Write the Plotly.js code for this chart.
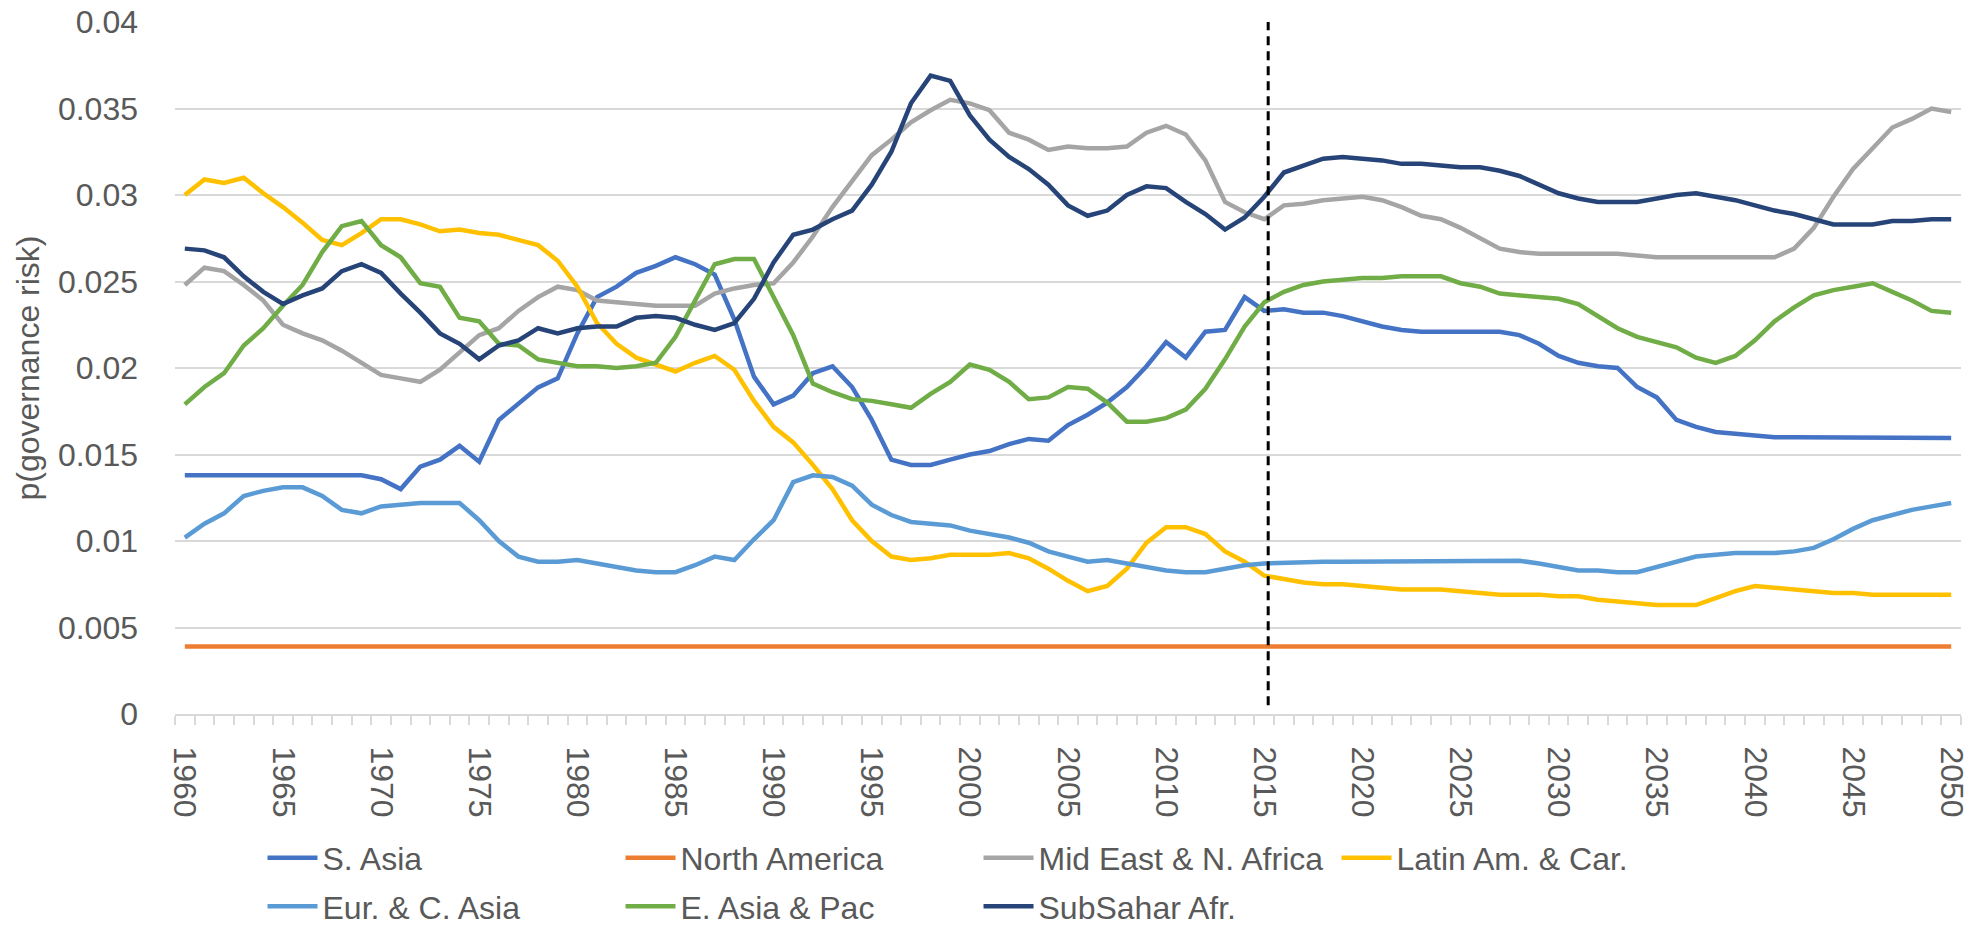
<!DOCTYPE html>
<html>
<head>
<meta charset="utf-8">
<script src="https://cdn.plot.ly/plotly-3.0.1.min.js"></script>
<style>html,body{margin:0;padding:0;background:#fff;}#chart{width:1981px;height:934px;}</style>
</head>
<body>
<div id="chart"></div>
<script>
const years = [];
for (let y = 1960; y <= 2050; y++) years.push(y);

const seriesNames = ["S. Asia", "North America", "Mid East & N. Africa", "Latin Am. & Car.", "Eur. & C. Asia", "E. Asia & Pac", "SubSahar Afr."];
const seriesColors = ["#4472C4", "#ED7D31", "#A5A5A5", "#FFC000", "#5B9BD5", "#70AD47", "#264478"];

const sAsia = [
0.0138,0.0138,0.0138,0.0138,0.0138,0.0138,0.0138,0.0138,0.0138,0.0138,
0.01357,0.0130,0.0143,0.0147,0.0155,0.01458,0.0170,0.01795,0.01888,0.0194,
0.0220,0.0241,0.0247,0.0255,0.0259,0.0264,0.0260,0.0254,0.0228,0.0195,
0.0179,0.0184,0.0197,0.0201,0.0189,0.0170,0.0147,0.0144,0.0144,0.0147,
0.0150,0.0152,0.0156,0.0159,0.0158,0.0167,0.0173,0.0180,0.0189,0.0201,
0.0215,0.0206,0.0221,0.0222,0.0241,0.0233,0.0234,0.0232,0.0232,0.0230,
0.0227,0.0224,0.0222,0.0221,0.0221,0.0221,0.0221,0.0221,0.0219,0.0214,
0.0207,0.0203,0.0201,0.0200,0.0189,0.0183,0.0170,0.0166,0.0163,0.0162,
0.0161,0.0160,0.0160,0.0160,0.0160,0.01598,0.01597,0.01596,0.01595,0.01595,0.01595];

const northAmerica = [
0.0039,0.0039,0.0039,0.0039,0.0039,0.0039,0.0039,0.0039,0.0039,0.0039,
0.0039,0.0039,0.0039,0.0039,0.0039,0.0039,0.0039,0.0039,0.0039,0.0039,
0.0039,0.0039,0.0039,0.0039,0.0039,0.0039,0.0039,0.0039,0.0039,0.0039,
0.0039,0.0039,0.0039,0.0039,0.0039,0.0039,0.0039,0.0039,0.0039,0.0039,
0.0039,0.0039,0.0039,0.0039,0.0039,0.0039,0.0039,0.0039,0.0039,0.0039,
0.0039,0.0039,0.0039,0.0039,0.0039,0.0039,0.0039,0.0039,0.0039,0.0039,
0.0039,0.0039,0.0039,0.0039,0.0039,0.0039,0.0039,0.0039,0.0039,0.0039,
0.0039,0.0039,0.0039,0.0039,0.0039,0.0039,0.0039,0.0039,0.0039,0.0039,
0.0039,0.0039,0.0039,0.0039,0.0039,0.0039,0.0039,0.0039,0.0039,0.0039,0.0039];

const midEast = [
0.0248,0.0258,0.0256,0.0248,0.0239,0.0225,0.0220,0.0216,0.0210,0.0203,
0.0196,0.0194,0.0192,0.0199,0.0209,0.0219,0.0223,0.0233,0.0241,0.0247,
0.0245,0.0239,0.0238,0.0237,0.0236,0.0236,0.0236,0.0243,0.0246,0.0248,
0.0249,0.0261,0.0276,0.0293,0.0308,0.0323,0.0332,0.0342,0.0349,0.0355,
0.0353,0.0349,0.0336,0.0332,0.0326,0.0328,0.0327,0.0327,0.0328,0.0336,
0.0340,0.0335,0.0320,0.0296,0.0290,0.0286,0.0294,0.0295,0.0297,0.0298,
0.0299,0.0297,0.0293,0.0288,0.0286,0.0281,0.0275,0.0269,0.0267,0.0266,
0.0266,0.0266,0.0266,0.0266,0.0265,0.0264,0.0264,0.0264,0.0264,0.0264,
0.0264,0.0264,0.0269,0.0281,0.0299,0.0315,0.0327,0.0339,0.0344,0.0350,0.0348];

const latinAm = [
0.0300,0.0309,0.0307,0.0310,0.0301,0.0293,0.0284,0.0274,0.0271,0.0278,
0.0286,0.0286,0.0283,0.0279,0.0280,0.0278,0.0277,0.0274,0.0271,0.0262,
0.0247,0.0226,0.0214,0.0206,0.0202,0.0198,0.0203,0.0207,0.0199,0.0181,
0.0166,0.0157,0.0144,0.0130,0.0112,0.0100,0.0091,0.0089,0.0090,0.0092,
0.0092,0.0092,0.0093,0.0090,0.0084,0.0077,0.0071,0.0074,0.0084,0.0099,
0.0108,0.0108,0.0104,0.0094,0.0088,0.0080,0.0078,0.0076,0.0075,0.0075,
0.0074,0.0073,0.0072,0.0072,0.0072,0.0071,0.0070,0.0069,0.0069,0.0069,
0.0068,0.0068,0.0066,0.0065,0.0064,0.0063,0.0063,0.0063,0.0067,0.0071,
0.0074,0.0073,0.0072,0.0071,0.0070,0.0070,0.0069,0.0069,0.0069,0.0069,0.0069];

const eurCAsia = [
0.0102,0.0110,0.0116,0.0126,0.0129,0.0131,0.0131,0.0126,0.0118,0.0116,
0.0120,0.0121,0.0122,0.0122,0.0122,0.0112,0.0100,0.0091,0.0088,0.0088,
0.0089,0.0087,0.0085,0.0083,0.0082,0.0082,0.0086,0.0091,0.0089,0.0101,
0.0112,0.0134,0.0138,0.0137,0.0132,0.0121,0.0115,0.0111,0.0110,0.0109,
0.0106,0.0104,0.0102,0.0099,0.0094,0.0091,0.0088,0.0089,0.0087,0.0085,
0.0083,0.0082,0.0082,0.0084,0.0086,0.0087,0.00875,0.0088,0.0088,0.0088,
0.0088,0.0088,0.0088,0.00885,0.00886,0.00886,0.00886,0.00886,0.00886,0.0087,
0.0085,0.0083,0.0083,0.0082,0.0082,0.0085,0.0088,0.0091,0.0092,0.0093,
0.0093,0.0093,0.0094,0.0096,0.0101,0.0107,0.0112,0.0115,0.0118,0.0120,0.0122];

const eAsiaPac = [
0.0179,0.0189,0.0197,0.0213,0.0223,0.0236,0.0248,0.0267,0.0282,0.0285,
0.0271,0.0264,0.0249,0.0247,0.0229,0.0227,0.0214,0.0213,0.0205,0.0203,
0.0201,0.0201,0.0200,0.0201,0.0203,0.0218,0.0239,0.0260,0.0263,0.0263,
0.0241,0.0219,0.0191,0.0186,0.0182,0.0181,0.0179,0.0177,0.0185,0.0192,
0.0202,0.0199,0.0192,0.0182,0.0183,0.0189,0.0188,0.0180,0.0169,0.0169,
0.0171,0.0176,0.0188,0.0205,0.0224,0.0238,0.0244,0.0248,0.0250,0.0251,
0.0252,0.0252,0.0253,0.0253,0.0253,0.0249,0.0247,0.0243,0.0242,0.0241,
0.0240,0.0237,0.0230,0.0223,0.0218,0.0215,0.0212,0.0206,0.0203,0.0207,
0.0216,0.0227,0.0235,0.0242,0.0245,0.0247,0.0249,0.0244,0.0239,0.0233,0.0232];

const subSahar = [
0.0269,0.0268,0.0264,0.0253,0.0244,0.0237,0.0242,0.0246,0.0256,0.0260,
0.0255,0.0243,0.0232,0.0220,0.0214,0.0205,0.0213,0.0216,0.0223,0.0220,
0.0223,0.0224,0.0224,0.0229,0.0230,0.0229,0.0225,0.0222,0.0226,0.0240,
0.0261,0.0277,0.0280,0.0286,0.0291,0.0306,0.0325,0.0353,0.0369,0.0366,
0.0346,0.0332,0.0322,0.0315,0.0306,0.0294,0.0288,0.0291,0.0300,0.0305,
0.0304,0.0296,0.0289,0.0280,0.0287,0.0299,0.0313,0.0317,0.0321,0.0322,
0.0321,0.0320,0.0318,0.0318,0.0317,0.0316,0.0316,0.0314,0.0311,0.0306,
0.0301,0.0298,0.0296,0.0296,0.0296,0.0298,0.0300,0.0301,0.0299,0.0297,
0.0294,0.0291,0.0289,0.0286,0.0283,0.0283,0.0283,0.0285,0.0285,0.0286,0.0286];

const seriesValues = [sAsia, northAmerica, midEast, latinAm, eurCAsia, eAsiaPac, subSahar];
const legendGroups = ["legend", "legend", "legend", "legend", "legend2", "legend2", "legend2"];

const xTickVals = [1960,1965,1970,1975,1980,1985,1990,1995,2000,2005,2010,2015,2020,2025,2030,2035,2040,2045,2050];
const xTickText = ["1960","1965","1970","1975","1980","1985","1990","1995","2000","2005","2010","2015","2020","2025","2030","2035","2040","2045","2050"];
const yTickVals = [0,0.005,0.01,0.015,0.02,0.025,0.03,0.035,0.04];
const yTickText = ["0","0.005","0.01","0.015","0.02","0.025","0.03","0.035","0.04"];
const forecastStart = 2015.2;
const yTitle = "p(governance risk)";

const FONT = "Liberation Sans, Arial, sans-serif";
const TXT = "#595959";

const traces = seriesNames.map((name, i) => ({
  type: "scatter",
  mode: "lines",
  name: name,
  x: years,
  y: seriesValues[i],
  line: {color: seriesColors[i], width: 4.5},
  legend: legendGroups[i],
  hoverinfo: "x+y+name"
}));

const layout = {
  width: 1981,
  height: 934,
  paper_bgcolor: "#ffffff",
  plot_bgcolor: "#ffffff",
  margin: {l: 175, r: 20, t: 22, b: 220, pad: 0, autoexpand: false},
  font: {family: FONT, size: 32, color: TXT},
  showlegend: true,
  xaxis: {
    range: [1959.5, 2050.5],
    tickmode: "array",
    tickvals: xTickVals,
    ticktext: xTickText,
    tickangle: 90,
    ticks: "",
    ticklabelstandoff: 24,
    showgrid: false,
    zeroline: false,
    showline: true,
    linecolor: "#d9d9d9",
    linewidth: 2,
    tickfont: {family: FONT, size: 32, color: TXT},
    minor: {tickmode: "linear", tick0: 1959.5, dtick: 1, ticks: "outside", ticklen: 9, tickwidth: 2, tickcolor: "#d9d9d9", showgrid: false},
    automargin: false,
    fixedrange: true
  },
  yaxis: {
    range: [0, 0.04],
    tickmode: "array",
    tickvals: yTickVals,
    ticktext: yTickText,
    ticks: "",
    ticklabelstandoff: 36,
    showgrid: true,
    gridcolor: "#d9d9d9",
    gridwidth: 2,
    zeroline: false,
    showline: false,
    tickfont: {family: FONT, size: 32, color: TXT},
    title: {text: yTitle, font: {family: FONT, size: 32, color: TXT}, standoff: 8},
    automargin: false,
    fixedrange: true
  },
  legend: {
    orientation: "h",
    x: 0.049, xanchor: "left",
    y: -0.208, yanchor: "middle",
    entrywidth: 293, entrywidthmode: "pixels",
    itemwidth: 50,
    font: {family: FONT, size: 32, color: TXT},
    bgcolor: "rgba(0,0,0,0)",
    traceorder: "normal"
  },
  legend2: {
    orientation: "h",
    x: 0.049, xanchor: "left",
    y: -0.3179, yanchor: "bottom",
    entrywidth: 293, entrywidthmode: "pixels",
    itemwidth: 50,
    font: {family: FONT, size: 32, color: TXT},
    bgcolor: "rgba(0,0,0,0)",
    traceorder: "normal"
  },
  shapes: [{
    type: "line", xref: "x", yref: "y",
    x0: forecastStart, x1: forecastStart, y0: 0.0005, y1: 0.04,
    line: {color: "#000000", width: 3, dash: "9px,6px"}
  }]
};

Plotly.newPlot("chart", traces, layout, {displayModeBar: false, staticPlot: true});
</script>
</body>
</html>
